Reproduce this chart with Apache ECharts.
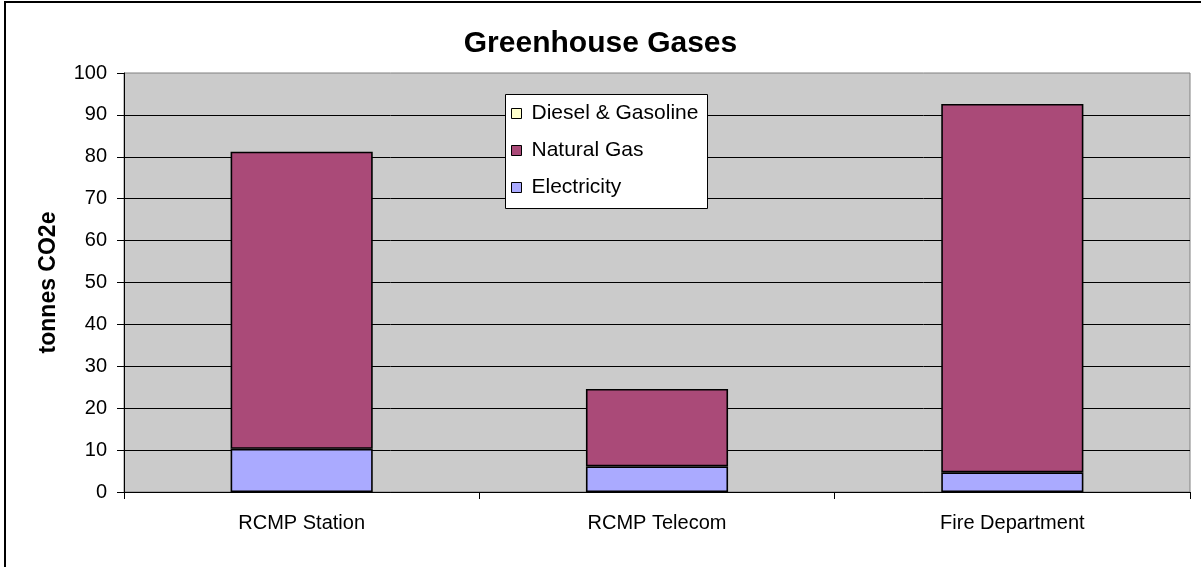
<!DOCTYPE html>
<html>
<head>
<meta charset="utf-8">
<script src="https://cdn.jsdelivr.net/npm/echarts@6/dist/echarts.min.js"></script>
<style>html,body{margin:0;padding:0;background:#fff;}#c{width:1201px;height:567px;}</style>
</head>
<body>
<div id="c"></div>
<script>
const categories = ['RCMP Station', 'RCMP Telecom', 'Fire Department'];
const electricity = [10.3, 6.1, 4.7];
const naturalGas = [70.9, 18.5, 87.9];
const dieselGasoline = [0, 0, 0];
const yTicks = { min: 0, max: 100, interval: 10 };

const chart = echarts.init(document.getElementById('c'), null, { renderer: 'canvas' });
const FONT = '"Liberation Sans", Arial, sans-serif';
const barBorder = { borderColor: '#000', borderWidth: 1.6 };
const legendIcon = { borderColor: '#000', borderWidth: 1 };

chart.setOption({
  animation: false,
  backgroundColor: '#fff',
  textStyle: { fontFamily: FONT, color: '#000' },
  title: {
    text: 'Greenhouse Gases',
    left: 'center',
    top: 29,
    padding: 0,
    textStyle: { fontFamily: FONT, fontSize: 30, fontWeight: 'bold', color: '#000' }
  },
  graphic: [
    { type: 'rect', z: 100, silent: true, shape: { x: 5, y: 2, width: 1300, height: 700 },
      style: { fill: null, stroke: '#000', lineWidth: 2 } },
    { type: 'rect', z: 3, silent: true, shape: { x: 505.5, y: 94.5, width: 202, height: 114 },
      style: { fill: '#fff', stroke: '#000', lineWidth: 1 } }
  ],
  legend: {
    z: 4,
    orient: 'vertical',
    left: 511,
    top: 103,
    padding: 0,
    itemGap: 16,
    itemWidth: 10,
    itemHeight: 10,
    icon: 'rect',
    data: [
      { name: 'Diesel & Gasoline', itemStyle: Object.assign({ color: '#FFFFCC' }, legendIcon) },
      { name: 'Natural Gas', itemStyle: Object.assign({ color: '#AA4A78' }, legendIcon) },
      { name: 'Electricity', itemStyle: Object.assign({ color: '#AAAAFF' }, legendIcon) }
    ],
    itemStyle: legendIcon,
    textStyle: { fontFamily: FONT, fontSize: 21, color: '#000', lineHeight: 21, padding: [0, 0, 0, 5] }
  },
  grid: {
    left: 124, top: 73, right: 11, bottom: 75,
    show: true, backgroundColor: '#CBCBCB', borderColor: '#808080', borderWidth: 1
  },
  xAxis: {
    type: 'category',
    data: categories,
    boundaryGap: true,
    axisLine: { lineStyle: { color: '#000', width: 1 } },
    axisTick: { show: true, length: 7, lineStyle: { color: '#000' } },
    axisLabel: { fontFamily: FONT, fontSize: 20, color: '#000', margin: 21 }
  },
  yAxis: {
    type: 'value',
    min: yTicks.min, max: yTicks.max, interval: yTicks.interval,
    name: 'tonnes CO2e',
    nameLocation: 'middle',
    nameGap: 64,
    nameRotate: 90,
    nameTextStyle: { fontFamily: FONT, fontSize: 23, fontWeight: 'bold', color: '#000' },
    axisLine: { show: true, lineStyle: { color: '#000', width: 1 } },
    axisTick: { show: true, length: 7, lineStyle: { color: '#000' } },
    axisLabel: { fontFamily: FONT, fontSize: 20, color: '#000', margin: 17 },
    splitLine: { show: true, showMaxLine: false, lineStyle: { color: '#000', width: 1 } }
  },
  series: [
    { name: 'Electricity', type: 'bar', stack: 'g', barWidth: '40%', data: electricity,
      itemStyle: Object.assign({ color: '#AAAAFF' }, barBorder) },
    { name: 'Natural Gas', type: 'bar', stack: 'g', barWidth: '40%', data: naturalGas,
      itemStyle: Object.assign({ color: '#AA4A78' }, barBorder) },
    { name: 'Diesel & Gasoline', type: 'bar', stack: 'g', barWidth: '40%', data: dieselGasoline,
      itemStyle: { color: '#FFFFCC', borderWidth: 0 } }
  ]
});
</script>
</body>
</html>
